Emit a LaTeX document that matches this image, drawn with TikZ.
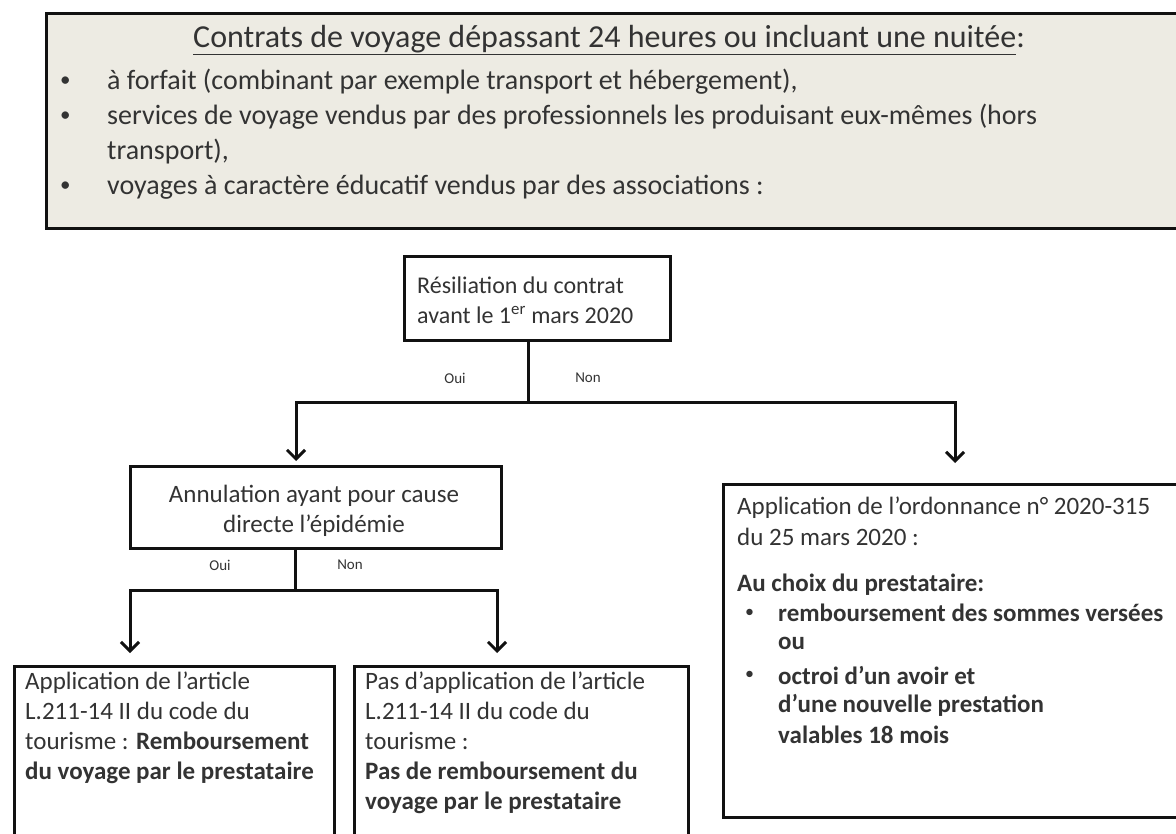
\documentclass[tikz,border=0pt]{standalone}
\usepackage{fontspec}
\setmainfont{Carlito}
\usetikzlibrary{arrows.meta}
\definecolor{beige}{HTML}{EDEBE3}
\definecolor{ink}{HTML}{333333}
\definecolor{edge}{HTML}{111111}
\begin{document}
\begin{tikzpicture}[x=1pt,y=-1pt,
  box/.style={draw=edge, line width=3pt, rectangle, anchor=north west, inner sep=0pt},
  txt/.style={anchor=west, inner sep=0pt, text=ink, font=\fontsize{25}{30}\selectfont, align=left},
  btxt/.style={txt, font=\fontsize{25}{30}\bfseries},
  bul/.style={anchor=west, inner sep=0pt, text=ink, font=\fontsize{18}{20}\selectfont},
  hdrtxt/.style={anchor=west, inner sep=0pt, text=ink, font=\fontsize{28}{32}\selectfont},
  conn/.style={line width=3pt, draw=edge},
  arr/.style={conn, -{Straight Barb[length=9pt,width=18pt,line width=3pt]}},
  lbl/.style={font=\fontsize{15}{17}\selectfont, text=ink, inner sep=0pt}]
\useasboundingbox (0,0) rectangle (1176,834);
\clip (0,0) rectangle (1176,834);
% header box
\node[box, fill=beige, minimum width=1150pt, minimum height=215pt] (hdr) at (45,12) {};
\node[hdrtxt, font=\fontsize{32}{36}\selectfont] (title) at (193,40) {\underline{Contrats de voyage dépassant 24 heures ou incluant une nuitée}:};
\node[bul, font=\fontsize{21}{24}\selectfont] (h1b) at (60,82) {•};
\node[hdrtxt] (h1) at (107,82) {à forfait (combinant par exemple transport et hébergement),};
\node[bul, font=\fontsize{21}{24}\selectfont] (h2b) at (60,117) {•};
\node[hdrtxt] (h2) at (107,117) {services de voyage vendus par des professionnels les produisant eux-mêmes (hors};
\node[hdrtxt] (h2c) at (107,152) {transport),};
\node[bul, font=\fontsize{21}{24}\selectfont] (h3b) at (60,187) {•};
\node[hdrtxt] (h3) at (107,187) {voyages à caractère éducatif vendus par des associations :};
% box 1
\node[box, minimum width=266pt, minimum height=84pt] (b1) at (403,255) {};
\node[txt, font=\fontsize{24}{30}\selectfont] (t1) at (417,300) {Résiliation du contrat\\avant le 1\textsuperscript{er} mars 2020};
% box 2
\node[box, minimum width=371pt, minimum height=82pt] (b2) at (129,465) {};
\node[txt, anchor=center, align=center] (t2) at (314,511) {Annulation ayant pour cause\\directe l’épidémie};
% box 3
\node[box, minimum width=320pt, minimum height=200pt] (b3) at (13,665) {};
\node[txt, anchor=north west] (t3) at (25,672) {Application de l’article\\L.211-14 II du code du\\tourisme : \textbf{Remboursement}\\\textbf{du voyage par le prestataire}};
% box 4
\node[box, minimum width=334pt, minimum height=200pt] (b4) at (353,665) {};
\node[txt, anchor=north west] (t4) at (365,672) {Pas d’application de l’article\\L.211-14 II du code du\\tourisme :\\\textbf{Pas de remboursement du}\\\textbf{voyage par le prestataire}};
% box 5
\node[box, minimum width=480pt, minimum height=333pt] (b5) at (722,483) {};
\node[txt] (t5a) at (737,508) {Application de l’ordonnance n° 2020-315};
\node[txt] (t5b) at (737,537) {du 25 mars 2020 :};
\node[btxt] (t5c) at (737,585) {Au choix du prestataire:};
\node[bul] (t5d1) at (745,613) {•};
\node[btxt] (t5d) at (778,613) {remboursement des sommes versées};
\node[btxt] (t5e) at (778,643) {ou};
\node[bul] (t5f1) at (745,675) {•};
\node[btxt] (t5f) at (778,675) {octroi d’un avoir et};
\node[btxt] (t5g) at (778,705) {d’une nouvelle prestation};
\node[btxt] (t5h) at (778,735) {valables 18 mois};
% connectors level 1
\coordinate (j1) at (528,403);
\coordinate (j1l) at (296,403);
\coordinate (j1r) at (955,403);
\draw[conn] (b1.south -| j1) -- (j1);
\draw[arr, shorten >=4pt] (j1) -- (j1l) -- (b2.north -| j1l);
\draw[arr, shorten >=20pt] (j1) -- (j1r) -- (b5.north -| j1r);
\node[lbl] (oui1) at (455,378) {Oui};
\node[lbl] (non1) at (588,378) {Non};
% connectors level 2
\coordinate (j2) at (295,590);
\coordinate (j2l) at (130,590);
\coordinate (j2r) at (497,590);
\draw[conn] (b2.south -| j2) -- (j2);
\draw[arr, shorten >=12pt] (j2) -- (j2l) -- (b3.north -| j2l);
\draw[arr, shorten >=12pt] (j2) -- (j2r) -- (b4.north -| j2r);
\node[lbl] (oui2) at (220,565) {Oui};
\node[lbl] (non2) at (350,565) {Non};
\end{tikzpicture}
\end{document}
